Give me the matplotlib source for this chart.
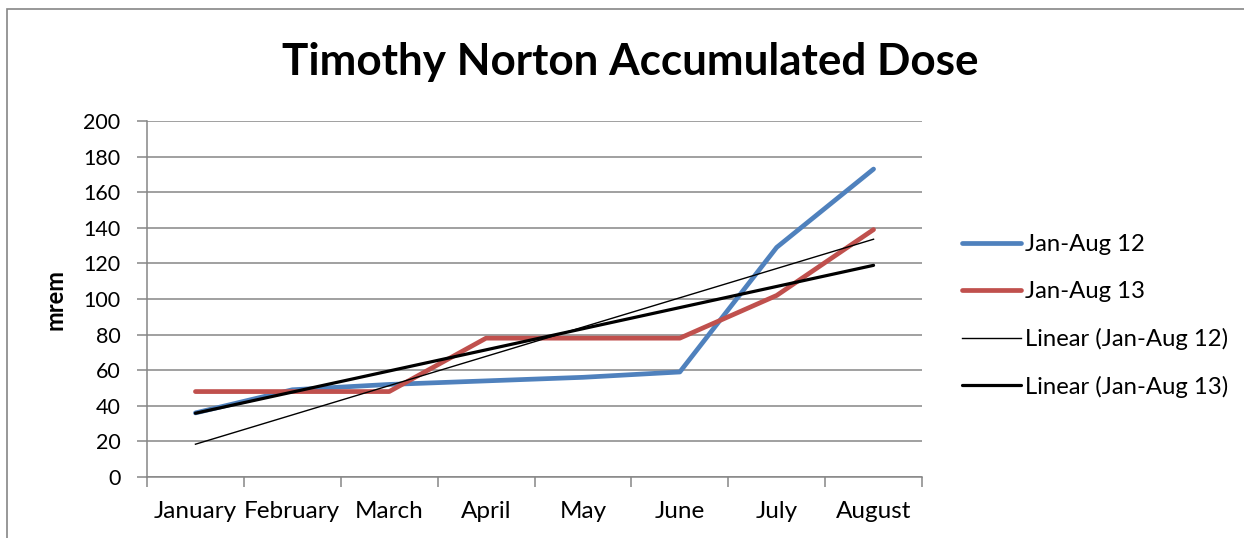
import numpy as np
import matplotlib.pyplot as plt
from matplotlib.patches import Rectangle

# data
months = ["January", "February", "March", "April", "May", "June", "July", "August"]
dose_12 = [36, 49, 52, 54, 56, 59, 129, 173]
dose_13 = [48, 48, 48, 78, 78, 78, 102, 139]
yticks = [0, 20, 40, 60, 80, 100, 120, 140, 160, 180, 200]

plt.rcParams['font.family'] = ['Lato', 'DejaVu Sans']

fig = plt.figure(figsize=(12.44, 5.38), dpi=100)
ax = fig.add_axes([147/1244, 61/538, 775/1244, 356/538])

x = np.arange(len(months))
ax.plot(x, dose_12, color="#4F81BD", lw=3.4, solid_capstyle="round",
        solid_joinstyle="round", label="Jan-Aug 12")
ax.plot(x, dose_13, color="#C0504D", lw=3.4, solid_capstyle="round",
        solid_joinstyle="round", label="Jan-Aug 13")

# linear trendlines like excel
p12 = np.polyfit(x, dose_12, 1)
p13 = np.polyfit(x, dose_13, 1)
ax.plot(x, np.polyval(p12, x), color="black", lw=1.0, label="Linear (Jan-Aug 12)")
ax.plot(x, np.polyval(p13, x), color="black", lw=2.3, solid_capstyle="round",
        label="Linear (Jan-Aug 13)")

ax.set_xlim(-0.5, len(months) - 0.5)
ax.set_ylim(0, 200)
ax.set_yticks(yticks)
ax.set_xticks(x)
ax.set_xticklabels(months)
ax.set_xticks(np.arange(-0.5, len(months)), minor=True)
ax.tick_params(axis="x", which="major", length=0, pad=17, labelsize=17.5)
ax.tick_params(axis="x", which="minor", length=7, width=1.1, color="#868686", direction="out")
ax.tick_params(axis="y", length=7, width=1.1, color="#868686", pad=12, labelsize=15.5)
ax.grid(axis="y", color="#868686", lw=1.1)
ax.set_axisbelow(True)
for s in ["top", "right"]:
    ax.spines[s].set_visible(False)
for s in ["left", "bottom"]:
    ax.spines[s].set_color("#868686")
    ax.spines[s].set_linewidth(1.1)

fig.text(630/1244, 1 - 62/538, "Timothy Norton Accumulated Dose", ha="center", va="center",
         fontsize=31.7, fontweight="bold")
fig.text(55/1244, 1 - 299/538, "mrem", rotation=90, ha="center", va="center",
         fontsize=17, fontweight="bold")

ax.legend(loc="center left", bbox_to_anchor=(962/1244, 1 - 316/538),
          bbox_transform=fig.transFigure, frameon=False, fontsize=17.2,
          handlelength=2.45, handletextpad=0.2, labelspacing=1.08,
          borderpad=0, borderaxespad=0)

# outer chart border
fig.patches.append(Rectangle((7/1244, -0.1), 1.2, 1.1 - 9/538, transform=fig.transFigure,
                             fill=False, edgecolor="#868686", lw=1.2))

fig.savefig("out.png", dpi=100)
